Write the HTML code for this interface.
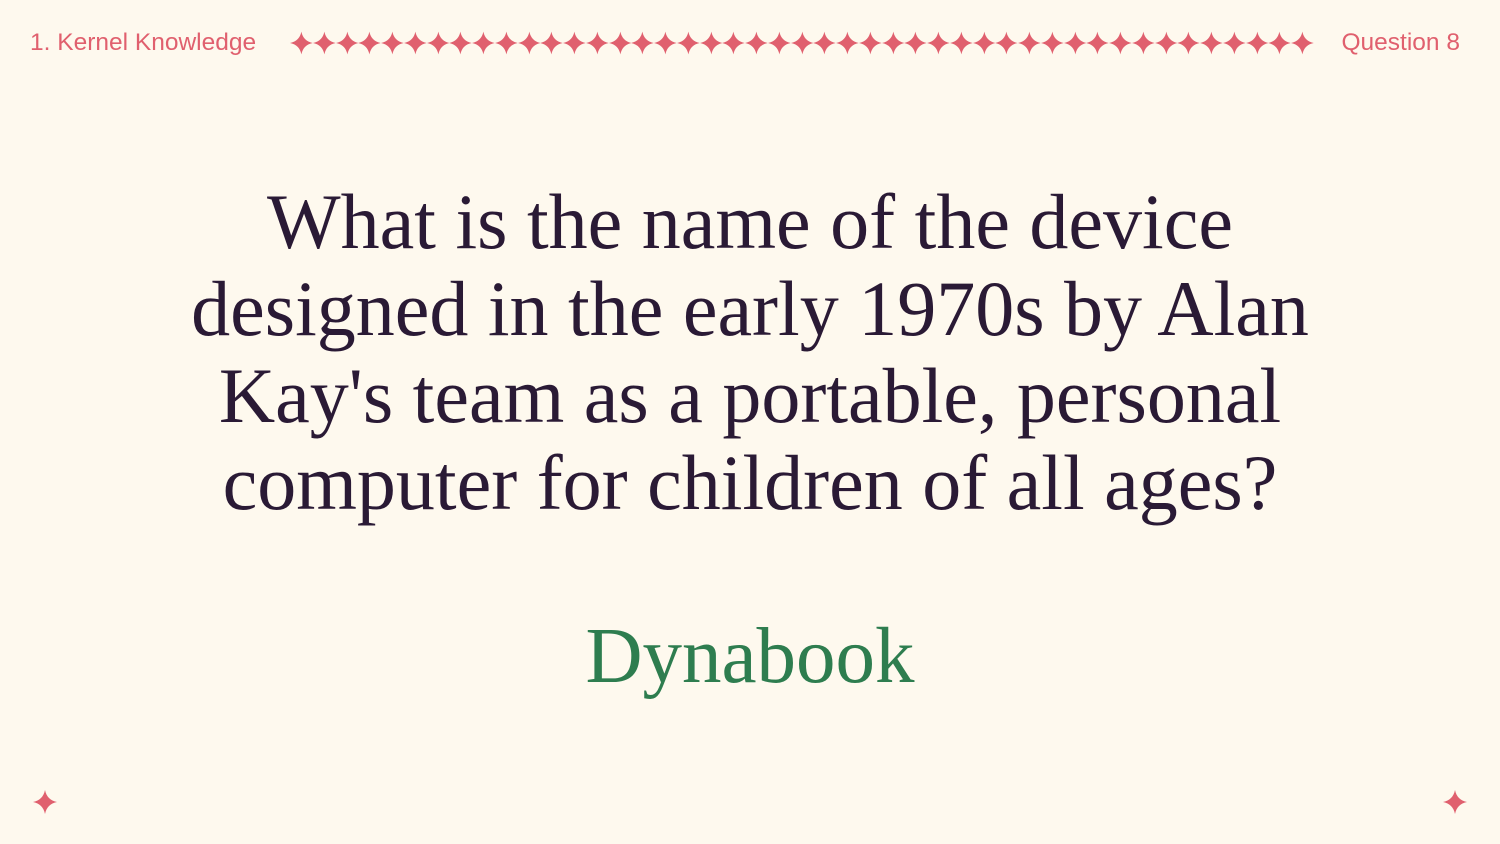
<!DOCTYPE html>
<html><head><meta charset="utf-8"><style>
html,body{margin:0;padding:0}
body{width:1500px;height:844px;background:#fef9ee;position:relative;overflow:hidden;font-family:"Liberation Sans",sans-serif}
.hdr{position:absolute;top:28px;font-size:24.5px;color:#e0606e;line-height:30px}
#stars{position:absolute;left:290px;top:31px;width:1024px;height:24px;display:flex;justify-content:space-between}
.st{width:24px;height:24px}
.q{position:absolute;left:0;width:1500px;top:178px;text-align:center;font-family:"Liberation Serif",serif;font-size:78px;line-height:87px;color:#2a1a35;letter-spacing:0}
.a{position:absolute;left:0;width:1500px;top:612px;text-align:center;font-family:"Liberation Serif",serif;font-size:79px;line-height:90px;color:#2e7d4f}
.corner{position:absolute;width:24px;height:24px;top:790px}
</style></head><body>
<div class="hdr" style="left:30px">1. Kernel Knowledge</div>
<div id="stars"></div>
<div class="hdr" style="right:40px">Question 8</div>
<div class="q">What is the name of the device<br>designed in the early 1970s by Alan<br>Kay's team as a portable, personal<br>computer for children of all ages?</div>
<div class="a">Dynabook</div>
<svg class="corner" style="left:33px" viewBox="0 0 24 24"><path d="M12 0Q14 10 24 12Q14 14 12 24Q10 14 0 12Q10 10 12 0Z" fill="#e0606e"/></svg>
<svg class="corner" style="left:1443px" viewBox="0 0 24 24"><path d="M12 0Q14 10 24 12Q14 14 12 24Q10 14 0 12Q10 10 12 0Z" fill="#e0606e"/></svg>
<script>
var c=document.getElementById('stars');
for(var i=0;i<45;i++){
var s=document.createElementNS('http://www.w3.org/2000/svg','svg');
s.setAttribute('viewBox','0 0 24 24');s.setAttribute('class','st');


s.innerHTML='<path d="M12 0Q14 10 24 12Q14 14 12 24Q10 14 0 12Q10 10 12 0Z" fill="#e0606e"/>';
c.appendChild(s);}
</script>
</body></html>
